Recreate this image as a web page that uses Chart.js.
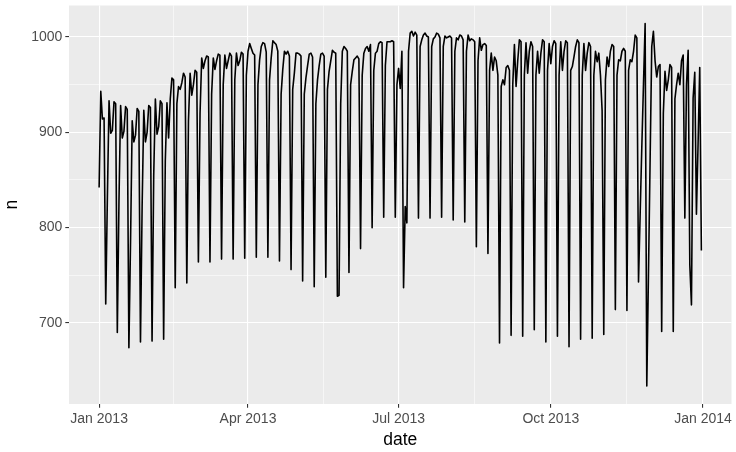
<!DOCTYPE html>
<html><head><meta charset="utf-8">
<script src="https://cdn.jsdelivr.net/npm/chart.js@4"></script>
<style>html,body{margin:0;padding:0;background:#fff;}#wrap{width:736px;height:452px;}</style>
</head><body><div id="wrap"><canvas id="c" width="736" height="452"></canvas></div>
<script>
// Daily flight counts, 2013 (one array per month)
const jan=[842,943,914,915,720,832,933,899,902,932,930,690,828,928,894,901,927,924,674,786,912,890,897,925,922,680,823,923,890,900,928];
const feb=[926,681,855,935,898,906,933,930,683,870,931,894,935,957,955,737,930,948,945,952,962,958,742,912,962,939,950,965];
const mar=[963,764,920,978,967,975,980,979,764,940,978,966,975,982,981,767,950,981,967,975,983,980,767,955,983,970,975,984,982,768,960];
const apr=[985,993,988,983,981,769,950,976,990,994,993,984,769,955,978,996,994,992,985,765,940,966,985,982,985,980,756,945,962,983];
const may=[983,982,980,744,940,957,970,982,983,979,738,930,955,970,982,983,980,748,945,964,975,986,984,983,728,729,930,985,990,988,985];
const jun=[753,950,964,976,978,980,977,778,960,983,988,990,985,992,800,965,983,985,993,995,994,811,970,995,995,995,996,995,811,950];
const jul=[967,946,985,737,822,805,985,1004,1006,1001,1005,1002,810,990,997,1002,1004,1001,1000,810,990,998,1000,1004,1003,999,811,990,1001,999,1000];
const aug=[1001,999,808,985,999,997,1002,1001,997,806,985,1002,996,998,997,995,780,975,999,986,992,993,991,773,965,983,965,979,975,960,679];
const sep=[948,955,950,968,970,965,687,950,992,948,975,997,995,686,960,994,962,985,995,990,693,960,985,962,983,997,995,680,965,993];
const oct=[972,990,996,993,686,960,995,965,985,996,994,675,965,969,979,990,997,994,683,960,993,965,983,994,990,684,960,985,974,983,960];
const nov=[923,688,955,979,969,985,992,990,714,960,976,975,985,988,985,713,965,976,974,985,1002,999,743,815,885,950,1014,634,750,870];
const dec=[990,1006,975,958,969,971,691,920,964,944,955,971,968,691,935,950,962,950,975,981,810,950,986,761,719,936,963,814,888,968,776];

const tickLabels=["Jan 2013","Apr 2013","Jul 2013","Oct 2013","Jan 2014"];
const tickDates=["2013-01-01","2013-04-01","2013-07-01","2013-10-01","2014-01-01"];
const yMajor=[700,800,900,1000];
const xTitle="date";
const yTitle="n";

const DAY=86400000;
const start=Date.UTC(2013,0,1);
const dayOf=s=>Math.round((Date.parse(s+"T00:00:00Z")-start)/DAY);
const counts=[jan,feb,mar,apr,may,jun,jul,aug,sep,oct,nov,dec].flat();
const points=counts.map((n,i)=>({x:i,y:n}));

const xMajor=tickDates.map(dayOf);
const xMinor=xMajor.slice(1).map((v,i)=>(v+xMajor[i])/2);
const yMinor=yMajor.slice(1).map((v,i)=>(v+yMajor[i])/2);

const xLo=0,xHi=counts.length-1;
const xMin=xLo-0.05*(xHi-xLo), xMax=xHi+0.05*(xHi-xLo);
const yLo=Math.min(...counts), yHi=Math.max(...counts);
const yMin=yLo-0.05*(yHi-yLo), yMax=yHi+0.05*(yHi-yLo);

const FONT='"Liberation Sans", Arial, Helvetica, sans-serif';
Chart.defaults.font.family=FONT;

const bg={id:'bg',beforeDraw(chart){const {ctx,chartArea:a}=chart;ctx.save();ctx.fillStyle='#EBEBEB';ctx.fillRect(a.left,a.top,a.right-a.left,a.bottom-a.top);ctx.restore();}};

const isIn=(arr,v)=>arr.some(m=>Math.abs(m-v)<1e-6);

new Chart(document.getElementById('c'),{
  type:'line',
  data:{datasets:[{data:points,borderColor:'#000',borderWidth:1.6,pointRadius:0,tension:0,fill:false,borderJoinStyle:'round',borderCapStyle:'butt'}]},
  plugins:[bg],
  options:{
    responsive:false,animation:false,devicePixelRatio:1,
    layout:{padding:{left:0,right:4.5,top:5.5,bottom:0}},
    plugins:{legend:{display:false},tooltip:{enabled:false}},
    scales:{
      x:{type:'linear',min:xMin,max:xMax,
        afterBuildTicks:s=>{s.ticks=[...xMajor,...xMinor].sort((a,b)=>a-b).map(v=>({value:v}));},
        afterFit:s=>{s.height=48;s.paddingLeft=0;s.paddingRight=0;},
        ticks:{autoSkip:false,maxRotation:0,minRotation:0,padding:2.9,color:'#4D4D4D',font:{size:14},
          callback:v=>{const i=xMajor.findIndex(m=>Math.abs(m-v)<1e-6);return i>=0?tickLabels[i]:'';}},
        grid:{color:'#FFFFFF',lineWidth:c=>(c.tick&&isIn(xMajor,c.tick.value))?1.1:0.55,
          tickColor:c=>(c.tick&&isIn(xMajor,c.tick.value))?'#333333':'rgba(0,0,0,0)',tickLength:3.7,tickWidth:1.1},
        border:{display:false},
        title:{display:true,text:xTitle,color:'#000',font:{size:17.5},padding:{top:0,bottom:1.5}}
      },
      y:{type:'linear',min:yMin,max:yMax,
        afterBuildTicks:s=>{s.ticks=[...yMajor,...yMinor].sort((a,b)=>a-b).map(v=>({value:v}));},
        afterFit:s=>{s.width=69;s.paddingTop=0;s.paddingBottom=0;},
        ticks:{autoSkip:false,padding:2.9,color:'#4D4D4D',font:{size:14},
          callback:v=>isIn(yMajor,v)?String(v):''},
        grid:{color:'#FFFFFF',lineWidth:c=>(c.tick&&isIn(yMajor,c.tick.value))?1.1:0.55,
          tickColor:c=>(c.tick&&isIn(yMajor,c.tick.value))?'#333333':'rgba(0,0,0,0)',tickLength:3.7,tickWidth:1.1},
        border:{display:false},
        title:{display:true,text:yTitle,color:'#000',font:{size:17.5},padding:{top:1.5,bottom:0}}
      }
    }
  }
});
</script></body></html>
